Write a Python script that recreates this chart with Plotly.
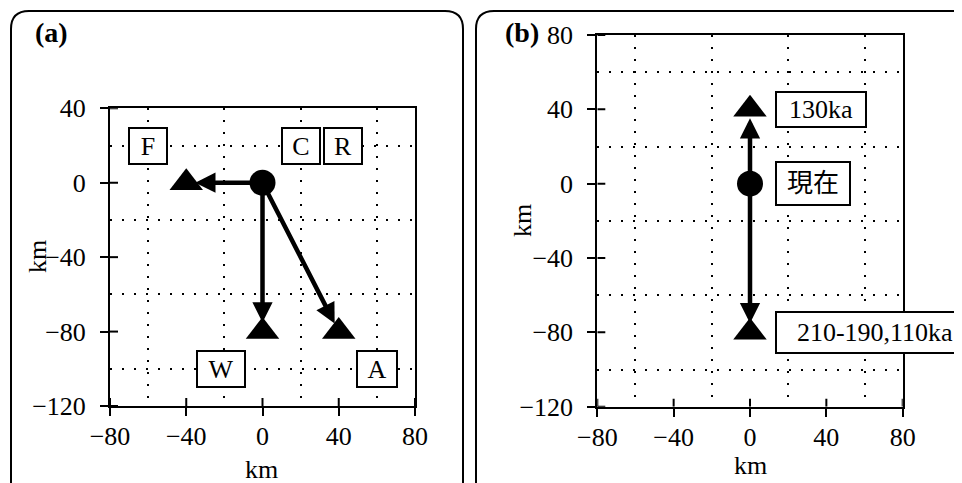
import plotly.graph_objects as go

# ---------------- data ----------------
x_ticks = [-80, -40, 0, 40, 80]
y_ticks_a = [-120, -80, -40, 0, 40]
y_ticks_b = [-120, -80, -40, 0, 40, 80]
x_grid = [-60, -20, 20, 60]
y_grid_a = [-100, -60, -20, 20]
y_grid_b = [-100, -60, -20, 20, 60]
x_range = [-80, 80]
y_range_a = [-120, 40]
y_range_b = [-120, 80]

# panel (a)
a_origin_x = [0]
a_origin_y = [0]
a_end_x = [-40, 0, 40]
a_end_y = [0, -80, -80]
a_labels = ["F", "C", "R", "W", "A"]
a_label_x = [-60, 20, 42, -22, 60]
a_label_y = [20, 20, 20, -100, -100]

# panel (b)
b_origin_x = [0]
b_origin_y = [0]
b_end_x = [0, 0]
b_end_y = [40, -80]
b_labels = ["130ka", "現在", "210-190,110ka"]
b_label_x = [13, 13, 13]
b_label_y = [40, 0, -80]

# ---------------- style ----------------
OFF = 8                      # default page body margin
W, H = 962 - OFF, 483 - OFF  # figure size so that it fills the window
FONT = "Liberation Serif, Noto Sans CJK JP, serif"
FS = 26
BLACK = "black"

fig = go.Figure()

def px(x):
    return (x - OFF) / W

def py(y):
    return 1 - (y - OFF) / H

# markers
fig.add_trace(go.Scatter(x=a_origin_x, y=a_origin_y, mode="markers",
                         marker=dict(symbol="circle", size=26, color=BLACK),
                         xaxis="x", yaxis="y", showlegend=False, hoverinfo="skip"))
fig.add_trace(go.Scatter(x=a_end_x, y=a_end_y, mode="markers",
                         marker=dict(symbol="triangle-up", size=29, color=BLACK),
                         xaxis="x", yaxis="y", showlegend=False, hoverinfo="skip"))
fig.add_trace(go.Scatter(x=b_origin_x, y=b_origin_y, mode="markers",
                         marker=dict(symbol="circle", size=26, color=BLACK),
                         xaxis="x2", yaxis="y2", showlegend=False, hoverinfo="skip"))
fig.add_trace(go.Scatter(x=b_end_x, y=b_end_y, mode="markers",
                         marker=dict(symbol="triangle-up", size=29, color=BLACK),
                         xaxis="x2", yaxis="y2", showlegend=False, hoverinfo="skip"))

annotations = []

# arrows
for ex, ey in zip(a_end_x, a_end_y):
    annotations.append(dict(x=ex, y=ey, ax=a_origin_x[0], ay=a_origin_y[0],
                            xref="x", yref="y", axref="x", ayref="y", text="",
                            showarrow=True, arrowhead=2, arrowsize=0.9,
                            arrowwidth=4.5, arrowcolor=BLACK, standoff=9))
for ex, ey in zip(b_end_x, b_end_y):
    annotations.append(dict(x=ex, y=ey, ax=b_origin_x[0], ay=b_origin_y[0],
                            xref="x2", yref="y2", axref="x2", ayref="y2", text="",
                            showarrow=True, arrowhead=2, arrowsize=0.9,
                            arrowwidth=4.5, arrowcolor=BLACK, standoff=9))

# label boxes
a_box_w = [36, 36, 36, 46, 38]
for lab, lx, ly, bw in zip(a_labels, a_label_x, a_label_y, a_box_w):
    annotations.append(dict(x=lx, y=ly, xref="x", yref="y", text=lab, showarrow=False,
                            xanchor="center", yanchor="middle",
                            font=dict(family=FONT, size=FS, color=BLACK),
                            bgcolor="white", bordercolor=BLACK, borderwidth=2,
                            borderpad=0, width=bw, height=34))
b_box_w = [88, 72, 196]
b_box_h = [33, 41, 39]
for lab, lx, ly, bw, bh in zip(b_labels, b_label_x, b_label_y, b_box_w, b_box_h):
    annotations.append(dict(x=lx, y=ly, xref="x2", yref="y2", text=lab, showarrow=False,
                            xanchor="left", yanchor="middle", align="center",
                            font=dict(family=FONT, size=FS, color=BLACK),
                            bgcolor="white", bordercolor=BLACK, borderwidth=2,
                            borderpad=0, width=bw, height=bh))

# axis titles & panel labels
def ptxt(x, y, text, angle=0, size=FS):
    return dict(x=px(x), y=py(y), xref="paper", yref="paper", text=text,
                showarrow=False, font=dict(family=FONT, size=size, color=BLACK),
                textangle=angle, xanchor="center", yanchor="middle")

annotations += [
    ptxt(262, 469, "km"),
    ptxt(750, 465, "km"),
    ptxt(37, 257, "km", -90),
    ptxt(522, 221, "km", -90),
    ptxt(51, 33, "<b>(a)</b>", size=28),
    ptxt(522, 33, "<b>(b)</b>", size=28),
]

# rounded panel frames
def rounded(x0, y0, x1, y1, r):
    rx, ry = r / W, r / H
    X0, X1 = px(x0), px(x1)
    Y0, Y1 = py(y0), py(y1)  # Y0 top, Y1 bottom
    return (f"M{X0 + rx},{Y0} L{X1 - rx},{Y0} Q{X1},{Y0} {X1},{Y0 - ry} "
            f"L{X1},{Y1 + ry} Q{X1},{Y1} {X1 - rx},{Y1} L{X0 + rx},{Y1} "
            f"Q{X0},{Y1} {X0},{Y1 + ry} L{X0},{Y0 - ry} Q{X0},{Y0} {X0 + rx},{Y0} Z")

shapes = [
    dict(type="path", xref="paper", yref="paper", path=rounded(11, 11, 463, 500, 18),
         line=dict(color=BLACK, width=2)),
    dict(type="path", xref="paper", yref="paper", path=rounded(476, 11, 990, 500, 18),
         line=dict(color=BLACK, width=2)),
]

# inner halves of the crossing tick marks (outer halves are the axis ticks)
TL = 8
for xr, yr, yrange, yticks in [("x", "y", y_range_a, y_ticks_a), ("x2", "y2", y_range_b, y_ticks_b)]:
    for v in x_ticks:
        shapes.append(dict(type="line", xref=xr, yref=yr, x0=v, x1=v,
                           ysizemode="pixel", yanchor=yrange[0], y0=0, y1=TL,
                           line=dict(color=BLACK, width=2)))
    for v in yticks:
        shapes.append(dict(type="line", xref=xr, yref=yr, y0=v, y1=v,
                           xsizemode="pixel", xanchor=x_range[0], x0=0, x1=TL,
                           line=dict(color=BLACK, width=2)))

tickfont = dict(family=FONT, size=FS, color=BLACK)

def main_axis(domain, anchor, rng, tickvals, grid, standoff):
    return dict(domain=domain, anchor=anchor, range=rng, tickvals=tickvals,
                ticks="outside", ticklen=TL, tickwidth=2, tickcolor=BLACK,
                showline=True, linewidth=2, linecolor=BLACK, mirror=True,
                showgrid=False, zeroline=False, tickfont=tickfont,
                ticklabelstandoff=standoff, automargin=False,
                minor=dict(tickvals=grid, showgrid=True, gridcolor=BLACK, gridwidth=2,
                           griddash="2px,10px", ticks=""))

xa_dom = [px(110), px(415)]
ya_dom = [py(406), py(108.3)]
xb_dom = [px(597.3), px(902.7)]
yb_dom = [py(406.7), py(35)]

fig.update_layout(
    width=W, height=H,
    margin=dict(l=0, r=0, t=0, b=0, autoexpand=False),
    paper_bgcolor="white", plot_bgcolor="white",
    showlegend=False,
    xaxis=main_axis(xa_dom, "y", x_range, x_ticks, x_grid, -2),
    yaxis=main_axis(ya_dom, "x", y_range_a, y_ticks_a, y_grid_a, 9),
    xaxis2=main_axis(xb_dom, "y2", x_range, x_ticks, x_grid, -2),
    yaxis2=main_axis(yb_dom, "x2", y_range_b, y_ticks_b, y_grid_b, 9),
    annotations=annotations,
    shapes=shapes,
)

fig.write_html("out.html")
